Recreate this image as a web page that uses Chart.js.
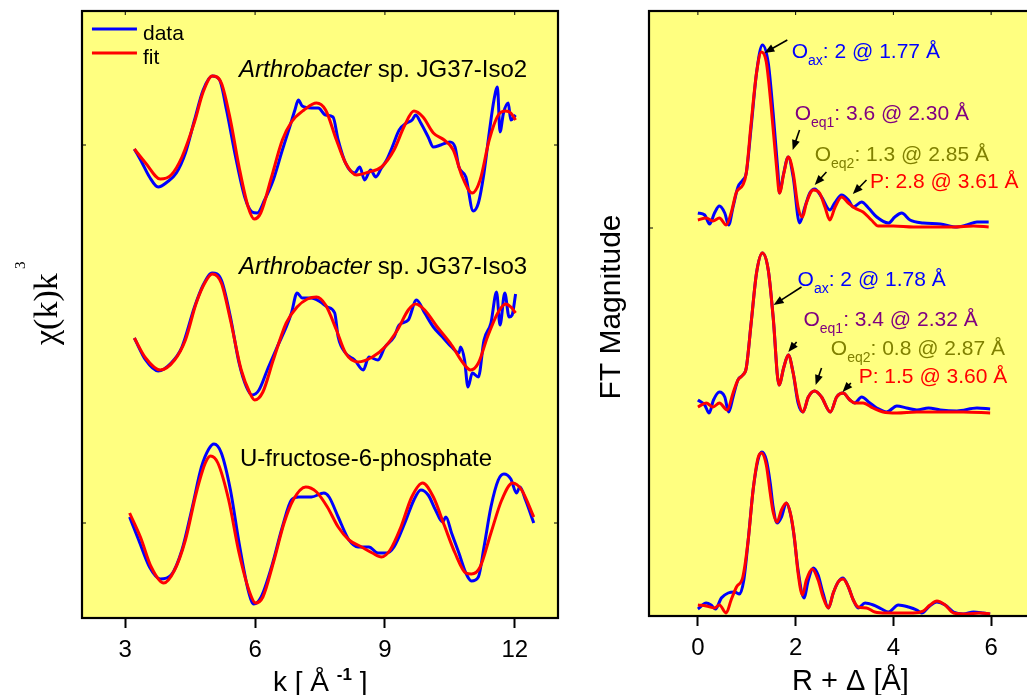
<!DOCTYPE html>
<html><head><meta charset="utf-8">
<script src="https://cdn.jsdelivr.net/npm/chart.js@4/dist/chart.umd.min.js"></script>
<style>
html,body{margin:0;padding:0;background:#fff;overflow:hidden;width:1027px;height:695px;}
#c1{position:absolute;left:0;top:0;}
#c2{position:absolute;left:600px;top:0;}
</style></head><body>
<canvas id="c1" width="580" height="695"></canvas>
<canvas id="c2" width="460" height="695"></canvas>
<script>
// ---------- tick labels ----------
const kTicks = [3, 6, 9, 12];
const rTicks = [0, 2, 4, 6];

// ---------- left panel: chi(k)k^3, vertical stacking offsets ----------
const chiOffsets = [473, 284, 95];

const iso2K = [3.21,3.39,3.56,3.76,3.97,4.18,4.39,4.60,4.80,5.01,5.18,5.34,5.55,5.76,5.93,6.05,6.22,6.42,6.63,6.80,6.92,7.00,7.09,7.30,7.46,7.63,7.80,7.92,8.09,8.30,8.42,8.53,8.67,8.79,8.92,9.04,9.17,9.33,9.50,9.63,9.71,9.83,10.00,10.12,10.29,10.50,10.62,10.71,10.87,11.04,11.16,11.29,11.41,11.52,11.60,11.66,11.74,11.85,11.91,12.02];
const iso2Chi = [-4,-18,-32,-42,-37,-28,-8,25,55,69,65,35,-12,-52,-67,-68,-55,-35,-5,18,35,45,39,37,37,30,28,5,-18,-28,-22,-35,-25,-32,-23,-15,-2,15,22,25,30,22,8,-2,0,3,-2,-22,-32,-66,-58,-28,12,45,58,13,32,42,25,30];
const iso2FitK = [3.21,3.47,3.81,4.06,4.31,4.60,4.80,5.01,5.22,5.43,5.63,5.84,5.98,6.13,6.38,6.63,6.84,7.13,7.42,7.63,7.88,8.09,8.34,8.63,8.92,9.21,9.46,9.67,9.88,10.12,10.37,10.58,10.79,11.02,11.20,11.41,11.62,11.79,11.91,12.02];
const iso2FitChi = [-4,-18,-34,-30,-12,23,53,69,62,25,-22,-62,-74,-68,-32,5,23,35,42,35,5,-18,-30,-27,-22,-5,20,34,28,12,5,-5,-32,-48,-35,5,30,34,32,25];

const iso3K = [3.21,3.47,3.76,4.06,4.31,4.60,4.80,5.01,5.22,5.43,5.63,5.80,5.93,6.09,6.30,6.51,6.72,6.84,6.97,7.09,7.30,7.51,7.67,7.84,7.92,8.09,8.30,8.50,8.63,8.84,9.00,9.21,9.33,9.54,9.73,9.92,10.12,10.33,10.54,10.71,10.75,10.84,10.92,11.02,11.16,11.29,11.45,11.58,11.66,11.77,11.87,11.94,12.02];
const iso3Chi = [-4,-26,-37,-29,-13,27,49,61,54,17,-29,-53,-61,-56,-34,-13,7,21,41,36,36,32,27,21,-3,-19,-26,-36,-23,-26,-13,-3,9,14,34,21,7,-3,-13,-19,-13,-26,-53,-39,-43,-6,11,42,9,41,17,19,40];
const iso3FitK = [3.21,3.47,3.81,4.14,4.39,4.64,4.85,5.01,5.22,5.43,5.68,5.88,5.99,6.18,6.42,6.72,6.97,7.21,7.42,7.63,7.88,8.09,8.38,8.71,9.00,9.29,9.54,9.71,9.92,10.21,10.54,10.79,10.98,11.16,11.37,11.62,11.79,11.91,12.02];
const iso3FitChi = [-4,-24,-36,-26,-6,31,52,60,51,14,-36,-59,-66,-58,-26,11,27,35,37,29,4,-19,-28,-23,-13,4,24,30,24,7,-11,-28,-36,-29,-3,22,30,27,21];

const f6pK = [3.10,3.31,3.56,3.81,4.06,4.31,4.55,4.76,4.93,5.05,5.22,5.43,5.63,5.84,5.97,6.14,6.38,6.63,6.84,7.01,7.30,7.59,7.71,7.92,8.17,8.38,8.63,8.84,9.04,9.21,9.46,9.67,9.83,10.00,10.17,10.33,10.41,10.54,10.71,10.87,11.00,11.16,11.29,11.45,11.62,11.75,11.91,12.04,12.12,12.25,12.44];
const f6pChi = [6,-17,-44,-56,-52,-27,16,56,74,79,70,33,-20,-67,-81,-74,-44,-4,23,26,26,30,26,6,-17,-24,-24,-30,-30,-24,0,23,33,28,13,1,6,-10,-30,-50,-58,-54,-24,16,43,49,44,30,36,23,0];
const f6pFitK = [3.10,3.35,3.60,3.89,4.14,4.39,4.64,4.85,4.97,5.14,5.39,5.63,5.88,6.01,6.18,6.42,6.67,6.88,7.17,7.42,7.67,7.92,8.17,8.46,8.71,8.92,9.12,9.37,9.62,9.87,10.12,10.37,10.62,10.87,11.00,11.20,11.45,11.70,11.95,12.16,12.44];
const f6pFitChi = [10,-14,-44,-60,-47,-17,30,60,67,60,23,-30,-70,-80,-74,-40,0,23,36,31,16,-4,-17,-24,-30,-34,-27,-4,26,40,26,-2,-30,-50,-51,-44,-10,23,40,33,6];

// ---------- right panel: FT magnitude, vertical stacking offsets ----------
const ftOffsets = [388, 201, 0];

const iso2R = [0.0,0.14,0.24,0.34,0.44,0.55,0.63,0.72,0.82,0.92,0.99,1.09,1.20,1.32,1.44,1.54,1.64,1.67,1.74,1.85,1.95,2.08,2.19,2.29,2.39,2.53,2.70,2.80,2.94,3.08,3.18,3.35,3.49,3.66,3.90,4.03,4.17,4.34,4.61,4.96,5.30,5.50,5.71,5.95];
const iso2Ft = [15,13,4,15,22,15,3,21,41,48,55,101,155,183,165,115,55,35,51,71,51,5,21,35,39,31,18,25,33,28,21,26,20,11,5,11,15,8,5,4,1,3,6,6];
const iso2FitR = [0.0,0.17,0.31,0.44,0.58,0.68,0.79,0.92,0.99,1.09,1.20,1.30,1.40,1.50,1.61,1.67,1.76,1.85,1.95,2.05,2.14,2.22,2.36,2.49,2.60,2.70,2.80,2.94,3.08,3.21,3.38,3.55,3.69,4.00,4.41,4.82,5.23,5.64,5.95];
const iso2FitFt = [8,10,7,10,3,15,36,43,55,105,155,176,166,121,61,35,55,71,55,21,11,25,38,35,21,8,20,31,25,20,16,8,2,2,1,1,1,2,1];

const iso3R = [0.0,0.14,0.23,0.32,0.44,0.55,0.63,0.72,0.82,0.92,0.99,1.09,1.20,1.32,1.44,1.54,1.66,1.76,1.85,1.95,2.05,2.15,2.26,2.39,2.53,2.71,2.84,2.97,3.11,3.21,3.35,3.52,3.66,3.86,4.07,4.27,4.48,4.72,4.96,5.30,5.71,5.98];
const iso3Ft = [15,10,2,15,23,18,3,18,35,40,47,92,142,162,145,98,30,48,60,42,12,3,18,24,18,3,18,22,15,12,18,12,7,3,9,7,5,7,5,4,7,6];
const iso3FitR = [0.0,0.17,0.31,0.44,0.60,0.72,0.82,0.92,0.99,1.09,1.20,1.32,1.44,1.54,1.66,1.76,1.85,1.95,2.05,2.15,2.26,2.39,2.53,2.71,2.84,2.97,3.11,3.21,3.38,3.58,3.79,4.07,4.48,4.96,5.43,5.98];
const iso3FitFt = [8,12,8,12,5,22,35,40,47,92,142,162,145,98,30,48,60,42,15,3,18,24,18,3,18,22,15,12,12,7,3,2,3,3,3,2];

const f6pR = [0.0,0.17,0.27,0.36,0.48,0.62,0.75,0.85,0.94,1.03,1.13,1.23,1.31,1.40,1.48,1.54,1.62,1.71,1.81,1.89,1.96,2.05,2.17,2.26,2.36,2.46,2.56,2.67,2.77,2.87,2.97,3.08,3.18,3.28,3.42,3.59,3.76,3.90,4.10,4.31,4.48,4.58,4.72,4.89,5.06,5.23,5.43,5.64,5.84,5.98];
const f6pFt = [7,13,11,7,18,23,24,22,36,76,126,156,164,156,133,109,93,99,113,103,83,46,18,36,48,41,23,8,23,34,38,29,16,8,13,11,7,4,11,9,6,3,9,14,11,4,2,4,3,2];
const f6pFitR = [0.0,0.17,0.34,0.44,0.58,0.68,0.79,0.92,1.03,1.13,1.23,1.30,1.40,1.48,1.54,1.62,1.71,1.81,1.91,1.98,2.05,2.14,2.22,2.34,2.46,2.56,2.67,2.77,2.87,2.97,3.08,3.18,3.28,3.45,3.62,3.86,4.14,4.41,4.61,4.75,4.89,5.06,5.23,5.50,5.77,5.98];
const f6pFitFt = [11,10,8,11,3,16,29,39,76,126,158,163,151,123,104,94,106,113,99,76,43,21,36,47,36,19,8,23,34,37,29,16,9,8,4,3,3,3,5,11,15,11,3,2,3,2];

// ---------- texts ----------
const sampleItalic = ['Arthrobacter', 'Arthrobacter', ''];
const sampleRest = [' sp. JG37-Iso2', ' sp. JG37-Iso3', 'U-fructose-6-phosphate'];
const sampleX = [5.63, 5.63, 5.65];
const sampleY = [550, 353, 161];

const BLUE = '#0000FF', RED = '#FF0000', PURPLE = '#800080', OLIVE = '#808000', BG = '#FFFF80';
const SANS = '"Liberation Sans", Arial, Helvetica, sans-serif';
const SERIF = '"Liberation Serif", "Times New Roman", serif';

const ftNotes = [
  {main:'O', sub:'ax',  rest:': 2 @ 1.77 Å',   color:BLUE,   x:1.92, y:566, ar:[1.83,576,1.36,563]},
  {main:'O', sub:'eq1', rest:': 3.6 @ 2.30 Å', color:PURPLE, x:1.98, y:504, ar:[2.08,486,1.94,466]},
  {main:'O', sub:'eq2', rest:': 1.3 @ 2.85 Å', color:OLIVE,  x:2.39, y:463, ar:[2.63,444,2.39,431]},
  {main:'P', sub:'',    rest:': 2.8 @ 3.61 Å', color:RED,    x:3.52, y:436, ar:[3.45,436,3.17,422]},
  {main:'O', sub:'ax',  rest:': 2 @ 1.78 Å',   color:BLUE,   x:2.04, y:338, ar:[2.12,329,1.55,311]},
  {main:'O', sub:'eq1', rest:': 3.4 @ 2.32 Å', color:PURPLE, x:2.16, y:298, ar:[2.02,274,1.85,264]},
  {main:'O', sub:'eq2', rest:': 0.8 @ 2.87 Å', color:OLIVE,  x:2.72, y:269, ar:[2.53,248,2.41,231]},
  {main:'P', sub:'',    rest:': 1.5 @ 3.60 Å', color:RED,    x:3.29, y:241, ar:[3.13,233,2.96,224]}
];

// ---------- helpers ----------
function pts(xs, ys, off) { return xs.map((x, i) => ({x: x, y: ys[i] + off})); }
function ds(label, data, color, order) {
  return {label, data, borderColor: color, backgroundColor: color, borderWidth: 3, pointRadius: 0,
    fill: false, cubicInterpolationMode: 'monotone', order};
}
function rich(ctx, x, y, parts) {
  let cx = x;
  ctx.textAlign = 'left'; ctx.textBaseline = 'alphabetic';
  for (const p of parts) {
    ctx.font = p.font; ctx.fillStyle = p.color || '#000';
    ctx.fillText(p.t, cx, y + (p.dy || 0));
    cx += ctx.measureText(p.t).width;
  }
}
function arrow(ctx, x1, y1, x2, y2) {
  const a = Math.atan2(y2 - y1, x2 - x1), L = 10, W = 4;
  ctx.save();
  ctx.strokeStyle = '#000'; ctx.fillStyle = '#000'; ctx.lineWidth = 1.6;
  ctx.beginPath(); ctx.moveTo(x1, y1); ctx.lineTo(x2 - L * 0.7 * Math.cos(a), y2 - L * 0.7 * Math.sin(a)); ctx.stroke();
  ctx.beginPath(); ctx.moveTo(x2, y2);
  ctx.lineTo(x2 - L * Math.cos(a) + W * Math.sin(a), y2 - L * Math.sin(a) - W * Math.cos(a));
  ctx.lineTo(x2 - L * Math.cos(a) - W * Math.sin(a), y2 - L * Math.sin(a) + W * Math.cos(a));
  ctx.closePath(); ctx.fill();
  ctx.restore();
}
function framePlugin(id, xTicks, yTickVals, extra) {
  return {
    id,
    beforeDraw(chart) {
      const {ctx, chartArea: a} = chart;
      ctx.save(); ctx.fillStyle = BG; ctx.fillRect(a.left, a.top, a.right - a.left, a.bottom - a.top); ctx.restore();
    },
    afterDraw(chart) {
      const {ctx, chartArea: a, scales} = chart;
      ctx.save();
      ctx.strokeStyle = '#000'; ctx.lineWidth = 1;
      ctx.beginPath();
      for (const t of xTicks) { const x = scales.x.getPixelForValue(t); ctx.moveTo(x, a.top); ctx.lineTo(x, a.top + 4); }
      for (const v of yTickVals) { const y = scales.y.getPixelForValue(v); ctx.moveTo(a.left, y); ctx.lineTo(a.left + 4, y); ctx.moveTo(a.right, y); ctx.lineTo(a.right - 4, y); }
      ctx.stroke();
      ctx.lineWidth = 2.2;
      ctx.strokeRect(a.left, a.top, a.right - a.left, a.bottom - a.top);
      ctx.restore();
      ctx.save(); extra(chart, ctx); ctx.restore();
    }
  };
}
function xScale(min, max, ticks, h) {
  return {
    type: 'linear', min, max,
    afterBuildTicks(s) { s.ticks = ticks.map(v => ({value: v})); },
    afterFit(s) { s.height = h; },
    grid: {display: true, drawOnChartArea: false, drawTicks: true, tickLength: 10, tickColor: '#000', tickWidth: 2},
    border: {display: false},
    ticks: {color: '#000', font: {family: SANS, size: 24}, padding: 8, maxRotation: 0, autoSkip: false}
  };
}
function yScale(max, w) {
  return {type: 'linear', min: 0, max, afterFit(s) { s.width = w; },
    ticks: {display: false}, grid: {display: false}, border: {display: false}};
}

// ---------- left chart ----------
new Chart(document.getElementById('c1'), {
  type: 'line',
  data: {datasets: [
    ds('fit', pts(iso2FitK, iso2FitChi, chiOffsets[0]), RED, 0),
    ds('data', pts(iso2K, iso2Chi, chiOffsets[0]), BLUE, 1),
    ds('fit', pts(iso3FitK, iso3FitChi, chiOffsets[1]), RED, 0),
    ds('data', pts(iso3K, iso3Chi, chiOffsets[1]), BLUE, 1),
    ds('fit', pts(f6pFitK, f6pFitChi, chiOffsets[2]), RED, 0),
    ds('data', pts(f6pK, f6pChi, chiOffsets[2]), BLUE, 1)
  ]},
  options: {
    responsive: false, animation: false, parsing: false,
    layout: {padding: {left: 0, top: 11, right: 22, bottom: 0}},
    plugins: {legend: {display: false}, tooltip: {enabled: false}},
    scales: {x: xScale(2, 13, kTicks, 77), y: yScale(607, 82)}
  },
  plugins: [framePlugin('f1', kTicks, [chiOffsets[0], chiOffsets[2]], (chart, ctx) => {
    const sx = chart.scales.x, sy = chart.scales.y;
    // legend
    const lx1 = sx.getPixelForValue(2.23), lx2 = sx.getPixelForValue(3.27), tx = sx.getPixelForValue(3.41);
    ctx.lineWidth = 3;
    ctx.strokeStyle = BLUE; ctx.beginPath(); ctx.moveTo(lx1, sy.getPixelForValue(589)); ctx.lineTo(lx2, sy.getPixelForValue(589)); ctx.stroke();
    ctx.strokeStyle = RED; ctx.beginPath(); ctx.moveTo(lx1, sy.getPixelForValue(565)); ctx.lineTo(lx2, sy.getPixelForValue(565)); ctx.stroke();
    rich(ctx, tx, sy.getPixelForValue(585) + 7, [{t: 'data', font: '21px ' + SANS}]);
    rich(ctx, tx, sy.getPixelForValue(561) + 7, [{t: 'fit', font: '21px ' + SANS}]);
    // sample names
    for (let i = 0; i < 3; i++) {
      rich(ctx, sx.getPixelForValue(sampleX[i]), sy.getPixelForValue(sampleY[i]) + 8.5, [
        {t: sampleItalic[i], font: 'italic 24px ' + SANS},
        {t: sampleRest[i], font: '24px ' + SANS}
      ]);
    }
    // axis titles
    rich(ctx, 273, 691, [
      {t: 'k [ Å ', font: '28px ' + SANS},
      {t: '-1', font: 'bold 17px ' + SANS, dy: -11},
      {t: ' ]', font: '28px ' + SANS}
    ]);
    ctx.save();
    ctx.translate(57, 345); ctx.rotate(-Math.PI / 2);
    rich(ctx, 0, 0, [{t: 'χ(k)k', font: '34px ' + SERIF}]);
    rich(ctx, 76, -32, [{t: '3', font: '15px ' + SERIF}]);
    ctx.restore();
  })]
});

// ---------- right chart ----------
new Chart(document.getElementById('c2'), {
  type: 'line',
  data: {datasets: [
    ds('fit', pts(iso2FitR, iso2FitFt, ftOffsets[0]), RED, 0),
    ds('data', pts(iso2R, iso2Ft, ftOffsets[0]), BLUE, 1),
    ds('fit', pts(iso3FitR, iso3FitFt, ftOffsets[1]), RED, 0),
    ds('data', pts(iso3R, iso3Ft, ftOffsets[1]), BLUE, 1),
    ds('fit', pts(f6pFitR, f6pFitFt, ftOffsets[2]), RED, 0),
    ds('data', pts(f6pR, f6pFt, ftOffsets[2]), BLUE, 1)
  ]},
  options: {
    responsive: false, animation: false, parsing: false,
    layout: {padding: {left: 0, top: 11, right: 20, bottom: 0}},
    plugins: {legend: {display: false}, tooltip: {enabled: false}},
    scales: {x: xScale(-1, 7, rTicks, 79), y: yScale(605, 49)}
  },
  plugins: [framePlugin('f2', rTicks, [ftOffsets[0]], (chart, ctx) => {
    const sx = chart.scales.x, sy = chart.scales.y;
    for (const n of ftNotes) {
      const x = sx.getPixelForValue(n.x), y = sy.getPixelForValue(n.y) + 7.5;
      const parts = [{t: n.main, font: '21px ' + SANS, color: n.color}];
      if (n.sub) parts.push({t: n.sub, font: '14px ' + SANS, color: n.color, dy: 7});
      parts.push({t: n.rest, font: '21px ' + SANS, color: n.color});
      rich(ctx, x, y, parts);
      arrow(ctx, sx.getPixelForValue(n.ar[0]), sy.getPixelForValue(n.ar[1]), sx.getPixelForValue(n.ar[2]), sy.getPixelForValue(n.ar[3]));
    }
    // axis titles (canvas origin at page x=600)
    rich(ctx, 192, 690, [{t: 'R + Δ [Å]', font: '29px ' + SANS}]);
    ctx.save();
    ctx.translate(20, 307); ctx.rotate(-Math.PI / 2);
    ctx.font = '30px ' + SANS; ctx.fillStyle = '#000'; ctx.textAlign = 'center'; ctx.textBaseline = 'alphabetic';
    ctx.fillText('FT Magnitude', 0, 0);
    ctx.restore();
  })]
});
</script>
</body></html>
